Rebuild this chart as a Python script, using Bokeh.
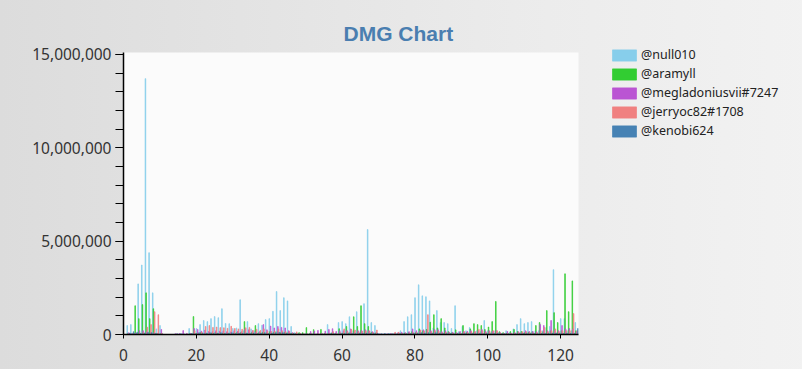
from bokeh.plotting import figure
from bokeh.models import (ColumnDataSource, FixedTicker, NumeralTickFormatter, Range1d,
                          Legend, LegendItem, Title)
from bokeh.transform import dodge
from bokeh.embed import file_html
from bokeh.resources import INLINE

# ---- data (values in thousands of damage) ----
rounds = list(range(1, 125))
series_names = ["@null010", "@aramyll", "@megladoniusvii#7247", "@jerryoc82#1708", "@kenobi624"]
series_colors = ["#87CEEB", "#32CD32", "#BA55D3", "#F08080", "#4682B4"]

null010_k = [480, 530, 60, 2710, 3720, 13700, 4380, 2230, 300, 480,
             0, 0, 0, 30, 20, 40, 20, 320, 60, 320,
             530, 750, 690, 850, 960, 900, 1380, 590, 580, 320,
             350, 1860, 200, 690, 300, 200, 580, 500, 800, 850,
             1240, 2300, 1280, 1970, 1800, 430, 100, 60, 40, 60,
             40, 40, 30, 40, 30, 530, 100, 60, 640, 690,
             580, 950, 200, 1220, 200, 1650, 5620, 640, 480, 50,
             40, 40, 50, 40, 60, 200, 690, 950, 1060, 1970,
             2660, 2070, 2020, 1800, 350, 1280, 640, 640, 580, 320,
             1540, 150, 430, 200, 370, 100, 200, 150, 750, 200,
             150, 200, 100, 60, 200, 100, 300, 530, 850, 580,
             640, 690, 200, 200, 200, 370, 430, 3470, 100, 850,
             850, 200, 200, 640]
aramyll_k = [40, 30, 1540, 850, 1600, 2230, 850, 1380, 50, 40,
             0, 0, 0, 0, 0, 20, 0, 40, 960, 80,
             100, 60, 60, 80, 120, 60, 80, 80, 60, 80,
             120, 100, 690, 80, 100, 480, 100, 120, 100, 150,
             120, 150, 100, 120, 100, 60, 40, 100, 100, 370,
             60, 260, 50, 270, 60, 60, 80, 60, 310, 80,
             430, 100, 950, 430, 1540, 580, 430, 120, 80, 0,
             0, 0, 0, 20, 40, 60, 80, 100, 150, 100,
             300, 200, 270, 660, 1060, 350, 850, 350, 150, 100,
             250, 100, 480, 100, 300, 580, 530, 480, 270, 400,
             690, 1770, 150, 100, 60, 160, 270, 160, 160, 100,
             120, 150, 480, 640, 150, 1280, 200, 1170, 640, 200,
             3250, 1220, 2870, 200]
megladonius_k = [90, 50, 80, 200, 200, 150, 120, 100, 60, 270,
                 0, 0, 0, 50, 50, 210, 60, 60, 320, 270,
                 180, 240, 160, 150, 200, 180, 200, 150, 140, 200,
                 180, 150, 300, 250, 200, 140, 150, 530, 250, 450,
                 350, 430, 380, 350, 200, 100, 60, 40, 30, 40,
                 160, 180, 220, 60, 180, 270, 310, 160, 200, 200,
                 200, 300, 150, 200, 200, 250, 200, 150, 100, 40,
                 30, 40, 50, 60, 100, 120, 100, 150, 300, 200,
                 180, 250, 250, 200, 270, 250, 150, 200, 120, 120,
                 100, 160, 150, 170, 200, 150, 200, 270, 180, 200,
                 170, 200, 100, 60, 160, 80, 100, 150, 100, 200,
                 160, 160, 150, 530, 480, 200, 750, 200, 200, 480,
                 300, 320, 300, 150]
jerryoc_k = [60, 40, 40, 80, 100, 390, 530, 1220, 1060, 60,
             0, 0, 0, 0, 0, 0, 30, 30, 200, 60,
             120, 430, 480, 380, 400, 370, 360, 330, 440, 320,
             300, 280, 360, 380, 220, 280, 220, 300, 180, 160,
             180, 300, 200, 150, 150, 80, 140, 60, 40, 30,
             40, 30, 40, 40, 40, 60, 150, 40, 100, 300,
             150, 270, 240, 150, 180, 200, 180, 100, 240, 0,
             0, 0, 30, 120, 120, 60, 60, 80, 100, 100,
             240, 180, 1060, 150, 200, 180, 100, 120, 80, 80,
             80, 60, 150, 100, 150, 150, 270, 200, 120, 150,
             200, 200, 80, 50, 60, 50, 80, 100, 150, 150,
             100, 80, 100, 200, 370, 150, 200, 300, 150, 200,
             200, 200, 1120, 200]
kenobi_k = [80, 150, 120, 60, 80, 120, 100, 60, 30, 30,
            0, 0, 0, 40, 40, 30, 20, 50, 40, 100,
            60, 80, 100, 60, 80, 100, 60, 80, 100, 60,
            80, 60, 80, 60, 80, 60, 80, 100, 60, 80,
            100, 120, 100, 80, 60, 60, 30, 30, 20, 20,
            30, 20, 20, 30, 20, 40, 40, 30, 60, 60,
            80, 60, 50, 80, 60, 80, 80, 60, 60, 40,
            50, 40, 40, 30, 40, 40, 40, 60, 60, 80,
            100, 80, 100, 80, 100, 80, 60, 60, 60, 40,
            60, 40, 60, 40, 60, 40, 60, 40, 60, 40,
            60, 60, 40, 40, 40, 30, 40, 60, 60, 60,
            60, 60, 40, 60, 60, 60, 80, 80, 60, 60,
            80, 60, 60, 320]

y_major = [0, 5000000, 10000000, 15000000]
y_minor = list(range(0, 15000001, 1000000))
x_major = [0, 20, 40, 60, 80, 100, 120]

series_k = [null010_k, aramyll_k, megladonius_k, jerryoc_k, kenobi_k]
cols = ["s0", "s1", "s2", "s3", "s4"]
data = {"x": rounds}
for c, vals in zip(cols, series_k):
    data[c] = [v * 1000 for v in vals]
src = ColumnDataSource(data)

p = figure(frame_width=455, frame_height=282, output_backend="svg", toolbar_location=None,
           x_range=Range1d(0, 124.9), y_range=Range1d(0, 15100000),
           min_border_left=123, min_border_right=224, min_border_top=52, min_border_bottom=35)
p.border_fill_alpha = 0
p.styles = {"background": "linear-gradient(to right, #dcdcdc 0%, #ececec 45%, #fbfbfb 100%)"}
p.background_fill_color = "#fbfbfb"
p.outline_line_color = None
p.xgrid.grid_line_color = None
p.ygrid.grid_line_color = None

bar_w = 0.17
items = []
for i, (c, name, col) in enumerate(zip(cols, series_names, series_colors)):
    r = p.vbar(x=dodge("x", 0.02 + i * 0.18, range=p.x_range), top=c, width=bar_w,
               source=src, fill_color=col, line_color=col, line_width=0.7)
    items.append(LegendItem(label=name, renderers=[r]))

legend = Legend(items=items, location=(31, 195), padding=0, margin=0,
                glyph_width=30, glyph_height=14, label_height=14, spacing=2,
                label_standoff=2, label_text_font="Noto Sans", label_text_font_size="12.5px",
                label_text_color="#222222", border_line_alpha=0, background_fill_alpha=0)
p.add_layout(legend, "right")

# axes
for ax in [p.xaxis[0], p.yaxis[0]]:
    ax.axis_line_color = "black"
    ax.axis_line_width = 1.5
    ax.major_tick_line_color = "black"
    ax.minor_tick_line_color = "black"
    ax.major_tick_in = 0
    ax.minor_tick_in = 0
    ax.major_label_text_font = "Noto Sans"
    ax.major_label_text_font_size = "15.5px"
    ax.major_label_text_color = "#333333"

p.yaxis.ticker = FixedTicker(ticks=y_major, minor_ticks=y_minor)
p.yaxis.formatter = NumeralTickFormatter(format="0,0")
p.yaxis.major_tick_out = 8
p.yaxis.minor_tick_out = 8
p.yaxis.major_label_standoff = 4

p.xaxis.ticker = FixedTicker(ticks=x_major, minor_ticks=[])
p.xaxis.major_tick_out = 4
p.xaxis.minor_tick_out = 0
p.xaxis.major_label_standoff = 10

# invisible spacer nearest the frame, then the title above it
spacer = Title(text="\u200b", standoff=12, text_font_size="1px", text_alpha=0)
p.add_layout(spacer, "above")
title = Title(text="DMG Chart", align="left", offset=220, standoff=12, vertical_align="top",
              text_font="Liberation Sans", text_font_style="bold",
              text_font_size="21px", text_color="#4A7EB0")
p.add_layout(title, "above")

open("out.html", "w").write(file_html(p, INLINE))
